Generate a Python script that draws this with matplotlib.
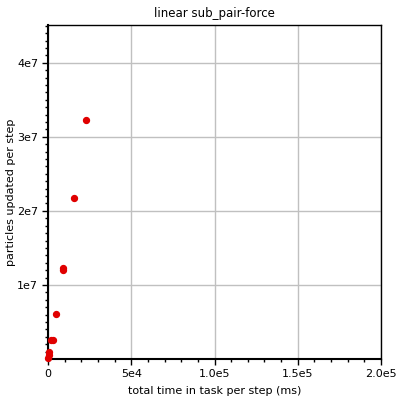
import matplotlib
matplotlib.use("Agg")
import matplotlib.pyplot as plt
from matplotlib.ticker import MultipleLocator

# time in task per step (ms) vs particles updated per step
time_ms = [22800, 15600, 9000, 9000, 4800, 1800, 3000, 900, 900, 100]
particles = [3.23e7, 2.175e7, 1.23e7, 1.20e7, 0.61e7, 0.26e7, 0.26e7, 0.10e7, 0.058e7, 0.02e7]

x_ticks = [0, 5e4, 1e5, 1.5e5, 2e5]
x_labels = ["0", "5e4", "1.0e5", "1.5e5", "2.0e5"]
y_ticks = [1e7, 2e7, 3e7, 4e7]
y_labels = ["1e7", "2e7", "3e7", "4e7"]


def main() -> None:
    fig = plt.figure(figsize=(4, 4), dpi=100)
    ax = fig.add_axes([0.12, 0.1025, 0.8325, 0.835])

    ax.scatter(time_ms, particles, s=18, color="#e00000", zorder=3, clip_on=False)

    ax.set_xlim(0, 2e5)
    ax.set_ylim(0, 4.51e7)
    ax.set_xticks(x_ticks)
    ax.set_xticklabels(x_labels)
    ax.set_yticks(y_ticks)
    ax.set_yticklabels(y_labels)
    ax.xaxis.set_minor_locator(MultipleLocator(1e4))
    ax.yaxis.set_minor_locator(MultipleLocator(1e6))

    ax.tick_params(which="major", direction="out", length=4, width=1, labelsize=8,
                   colors="black", pad=3)
    ax.tick_params(which="minor", direction="out", length=2, width=1)
    ax.grid(True, which="major", color="#c0c0c0", linewidth=1)
    for side in ["top", "right", "bottom", "left"]:
        ax.spines[side].set_linewidth(1)
    ax.spines["left"].set_linewidth(1.5)
    ax.spines["bottom"].set_linewidth(1.5)

    ax.set_title("linear sub_pair-force", fontsize=8.5, pad=6)
    ax.set_xlabel("total time in task per step (ms)", fontsize=8, labelpad=5)
    ax.set_ylabel("particles updated per step", fontsize=8)
    ax.yaxis.set_label_coords(-0.097, 0.5)

    fig.savefig("out.png", dpi=100)


if __name__ == "__main__":
    main()
